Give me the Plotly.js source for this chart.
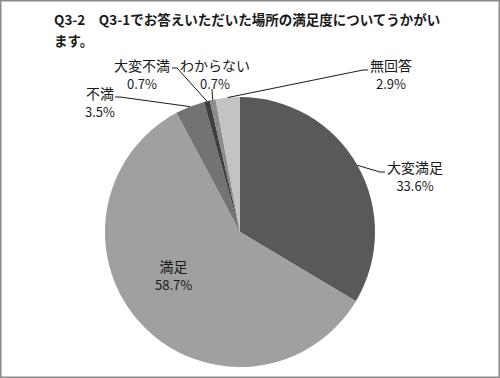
<!DOCTYPE html>
<html>
<head>
<meta charset="utf-8">
<script src="https://cdn.plot.ly/plotly-3.0.1.min.js"></script>
<style>html,body{margin:0;padding:0;background:#fff;}#chart{width:500px;height:378px;}</style>
</head>
<body>
<div id="chart"></div>
<script>
const categories = ['大変満足', '満足', '不満', '大変不満', 'わからない', '無回答'];
const values = [33.6, 58.7, 3.5, 0.7, 0.7, 2.9];
const percentLabels = ['33.6%', '58.7%', '3.5%', '0.7%', '0.7%', '2.9%'];
const colors = ['#595959', '#a0a0a0', '#737373', '#3f3f3f', '#8c8c8c', '#c3c3c3'];

const W = 500, H = 378;
const cx = 240, cy = 232, R = 135;
const font = '"Noto Sans CJK JP", "Noto Sans", sans-serif';

// label layout (pixel positions of label centres) and leader-line elbows
const labelPos = [
  {x: 415, y: 176, elbow: [[380, 172], [385, 172]]},
  {x: 173, y: 275, elbow: null},
  {x: 100, y: 102, elbow: [[120, 97], [115, 97]]},
  {x: 142, y: 74, elbow: [[177, 68], [172, 68]]},
  {x: 215, y: 74, elbow: [[212, 89]]},
  {x: 391, y: 74, elbow: [[363, 70], [368, 70]]}
];

const px = x => x / W;
const py = y => 1 - y / H;

const total = values.reduce((a, b) => a + b, 0);
let cum = 0;
const annotations = [];
const shapes = [];
values.forEach((v, i) => {
  const mid = (cum + v / 2) / total * 2 * Math.PI;
  cum += v;
  const ax = cx + R * Math.sin(mid), ay = cy - R * Math.cos(mid);
  const lp = labelPos[i];
  annotations.push({
    xref: 'paper', yref: 'paper', x: px(lp.x), y: py(lp.y),
    xanchor: 'center', yanchor: 'middle', showarrow: false,
    text: categories[i] + '<br><span style="font-size:13px">' + percentLabels[i] + '</span>',
    font: {family: font, size: 14, color: '#1a1a1a'}
  });
  if (lp.elbow) {
    let d = 'M' + px(ax) + ',' + py(ay);
    lp.elbow.forEach(p => { d += ' L' + px(p[0]) + ',' + py(p[1]); });
    shapes.push({type: 'path', xref: 'paper', yref: 'paper', path: d,
      line: {color: '#1a1a1a', width: 1}});
  }
});
shapes.push({type: 'rect', xref: 'paper', yref: 'paper', x0: 0.5 / W, x1: 1 - 0.5 / W, y0: 0.5 / H, y1: 1 - 0.5 / H,
  line: {color: '#8a8a8a', width: 2}, fillcolor: 'rgba(0,0,0,0)'});

const trace = {
  type: 'pie',
  labels: categories,
  values: values,
  sort: false,
  direction: 'clockwise',
  rotation: 0,
  textinfo: 'none',
  hoverinfo: 'label+percent',
  marker: {colors: colors, line: {width: 0}},
  domain: {x: [(cx - R) / W, (cx + R) / W], y: [py(cy + R), py(cy - R)]},
  showlegend: false
};

const layout = {
  width: W, height: H,
  margin: {l: 0, r: 0, t: 0, b: 0},
  paper_bgcolor: '#ffffff',
  title: {
    text: '<b><span style="font-size:13.5px">Q3-2　Q3-1でお答えいただいた場所の満足度についてうかがい<br>ます。</span></b>',
    x: 54 / W, xanchor: 'left', xref: 'paper',
    y: 1 - 25 / H, yanchor: 'top', yref: 'paper',
    font: {family: font, size: 16.5, color: '#1a1a1a'}
  },
  annotations: annotations,
  shapes: shapes
};

Plotly.newPlot('chart', [trace], layout, {displayModeBar: false, staticPlot: true});
</script>
</body>
</html>
